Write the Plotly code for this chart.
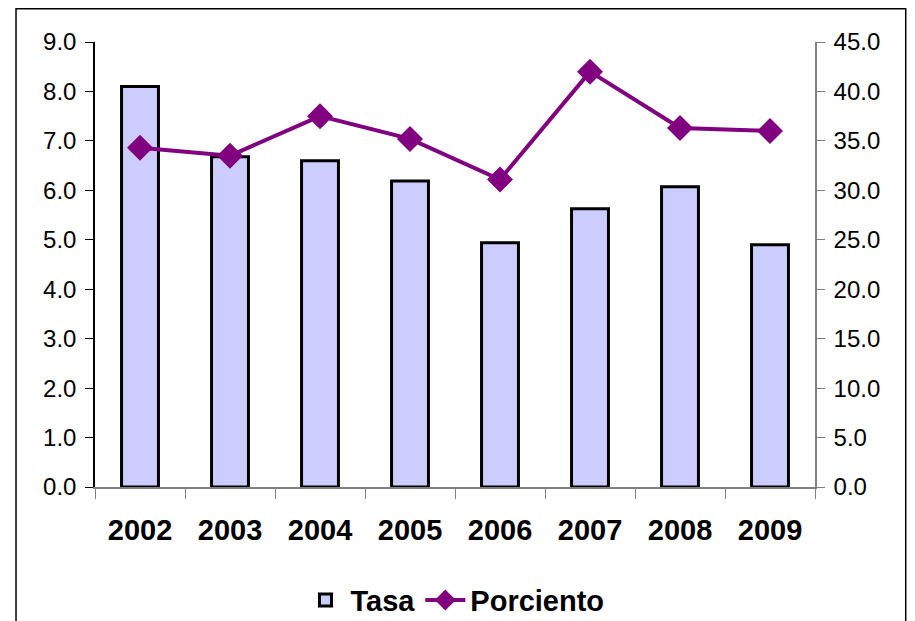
import plotly.graph_objects as go

years = ["2002", "2003", "2004", "2005", "2006", "2007", "2008", "2009"]
tasa = [8.1, 6.68, 6.6, 6.19, 4.94, 5.63, 6.07, 4.9]
porciento = [34.3, 33.5, 37.5, 35.2, 31.1, 42.0, 36.3, 36.0]
left_ticks = [0, 1, 2, 3, 4, 5, 6, 7, 8, 9]
right_ticks = [0, 5, 10, 15, 20, 25, 30, 35, 40, 45]

FONT = "Liberation Sans, Arial, sans-serif"

fig = go.Figure()
fig.add_trace(go.Bar(
    x=years, y=tasa, name="Tasa", width=0.41,
    marker=dict(color="#CCCCFF", line=dict(color="black", width=3)),
    yaxis="y",
))
fig.add_trace(go.Scatter(
    x=years, y=porciento, name="Porciento", mode="lines+markers",
    line=dict(color="#800080", width=4),
    marker=dict(symbol="diamond", size=20, color="#800080"),
    yaxis="y2",
))

fig.update_layout(
    width=907, height=613,
    margin=dict(l=87, r=100, t=34, b=134, autoexpand=False),
    paper_bgcolor="white", plot_bgcolor="white",
    font=dict(family=FONT, color="black"),
    showlegend=True,
    legend=dict(orientation="h", x=0.5, xanchor="center",
                yref="container", y=0.034, yanchor="middle",
                font=dict(size=29, family=FONT, weight="bold"), itemwidth=40,
                traceorder="normal"),
    xaxis=dict(type="category", showline=True, linecolor="#808080", linewidth=1.5,
               ticks="outside", ticklen=10, tickson="boundaries", tickcolor="#808080",
               tickfont=dict(size=29, family=FONT, weight="bold"), showgrid=False,
               range=[-0.5, 7.5], ticklabelstandoff=16),
    xaxis2=dict(overlaying="x", type="linear", range=[-0.5, 7.5], showline=False,
                tickvals=[-0.5, 0.5, 1.5, 2.5, 3.5, 4.5, 5.5, 6.5, 7.5],
                ticks="inside", ticklen=10, tickcolor="#808080", showticklabels=False,
                showgrid=False, zeroline=False, side="bottom", anchor="y"),
    yaxis=dict(range=[0, 9], tickvals=left_ticks, tickformat=".1f",
               showline=True, linecolor="black", linewidth=1.5,
               ticks="outside", ticklen=8, tickcolor="black",
               tickfont=dict(size=24, family=FONT), showgrid=False, zeroline=False,
               ticklabelstandoff=4),
    yaxis3=dict(overlaying="y", range=[0, 9], tickvals=left_ticks, side="left",
                ticks="inside", ticklen=8, tickcolor="black", showticklabels=False,
                showgrid=False, zeroline=False, showline=False, anchor="x"),
    yaxis2=dict(overlaying="y", side="right", range=[0, 45], tickvals=right_ticks,
                tickformat=".1f", showline=True, linecolor="#808080", linewidth=1.5,
                ticks="outside", ticklen=8, tickcolor="#808080",
                tickfont=dict(size=24, family=FONT), showgrid=False, zeroline=False,
                ticklabelstandoff=4),
    yaxis4=dict(overlaying="y", side="right", range=[0, 45], tickvals=right_ticks,
                ticks="inside", ticklen=8, tickcolor="#808080", showticklabels=False,
                showgrid=False, zeroline=False, showline=False, anchor="x"),
    shapes=[dict(type="rect", xref="paper", yref="paper",
                 x0=-0.1097, x1=1.126, y0=-0.32, y1=1.0745,
                 line=dict(color="black", width=1.5), fillcolor="rgba(0,0,0,0)",
                 layer="below")],
)

fig.write_html("out.html")
